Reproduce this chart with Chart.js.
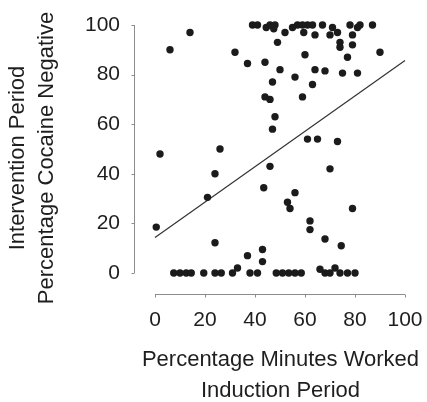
<!DOCTYPE html>
<html lang="en">
<head>
<meta charset="UTF-8">
<title>Minutes Worked vs Cocaine Negative</title>
<script src="https://cdn.jsdelivr.net/npm/chart.js"></script>
<style>
  html, body { margin: 0; padding: 0; background: #fff; }
  #wrap { width: 427px; height: 402px; }
</style>
</head>
<body>
<div id="wrap"><canvas id="scatter" width="427" height="402"></canvas></div>
<script>
// Induction period % minutes worked (x) vs intervention period % cocaine negative (y)
const minutesWorked = [
  6, 14, 32, 37, 44,
  39, 41, 44.5, 46, 48, 47.5, 49,
  52, 55, 57, 59, 59.5, 61, 63, 64, 67,
  60, 70, 71, 73, 74, 74,
  77, 78, 79, 79, 81, 82, 87, 90,
  50, 47, 44, 46, 64, 68, 75, 81, 56, 63, 59,
  48, 47, 61, 65, 73, 2, 26, 24, 46, 70,
  21, 43.5, 56, 53, 54, 79, 0.5, 62, 62, 68, 74.5, 24, 43, 37, 43,
  7.5, 10, 12.5, 14.5, 19.5, 24, 26.5, 31, 33, 38, 41,
  48.5, 51, 53.5, 56, 58.5, 66, 68, 70, 72, 74, 77, 80
];
const cocaineNegative = [
  90, 97, 89, 84.5, 85,
  100, 100, 99, 100, 100, 98.5, 93,
  97, 99, 100, 100, 97, 100, 100, 96, 100,
  88, 96, 99, 97, 93, 91,
  87, 100, 96, 92, 99, 100, 100, 89,
  82, 77, 71, 70, 82, 81.5, 80.6, 80.6, 79, 76, 71,
  63, 58, 54, 54, 53, 48, 50, 40, 43, 42,
  30.5, 34.4, 32.4, 28.5, 26, 26, 18.5, 21, 17.5, 13.7, 11, 12.2, 9.5, 7, 4.6,
  0, 0, 0, 0, 0, 0, 0, 0, 2, 0, 0,
  0, 0, 0, 0, 0, 1.5, 0, 0, 2, 0, 0, 0
];
// regression line end points
const fitX = [0, 100];
const fitY = [14.3, 85.7];
const tickValues = [0, 20, 40, 60, 80, 100];
const xTitle = ['Percentage Minutes Worked', 'Induction Period'];
const yTitle = ['Intervention Period', 'Percentage Cocaine Negative'];

const points = minutesWorked.map((x, i) => ({ x: x, y: cocaineNegative[i] }));
const fitLine = fitX.map((x, i) => ({ x: x, y: fitY[i] }));

const FONT = '"Liberation Sans", Arial, sans-serif';
const AXIS_GRAY = '#8c8c8c';
const TEXT = '#1e1e1e';

// both axes are detached from the plot and only span 0..100, so draw them here
const detachedAxes = {
  id: 'detachedAxes',
  afterDraw(chart) {
    const { x, y } = chart.scales;
    const ctx = chart.ctx;
    const first = tickValues[0], last = tickValues[tickValues.length - 1];
    const ax = chart.chartArea.left + 0.5;   // y axis line
    const ay = chart.chartArea.bottom + 0.5; // x axis line
    ctx.save();
    ctx.strokeStyle = AXIS_GRAY;
    ctx.lineWidth = 1;
    ctx.beginPath();
    ctx.moveTo(ax, y.getPixelForValue(first));
    ctx.lineTo(ax, y.getPixelForValue(last));
    ctx.moveTo(x.getPixelForValue(first), ay);
    ctx.lineTo(x.getPixelForValue(last), ay);
    tickValues.forEach(v => {
      const py = Math.round(y.getPixelForValue(v)) + 0.5;
      ctx.moveTo(ax, py);
      ctx.lineTo(ax - 3, py);
      const px = Math.round(x.getPixelForValue(v)) + 0.5;
      ctx.moveTo(px, ay);
      ctx.lineTo(px, ay + 3);
    });
    ctx.stroke();

    // y title, two rotated lines centred a bit below the middle of the plot
    ctx.fillStyle = TEXT;
    ctx.font = '22px ' + FONT;
    ctx.textAlign = 'center';
    ctx.textBaseline = 'middle';
    ctx.translate(18, 158);
    ctx.rotate(-Math.PI / 2);
    ctx.fillText(yTitle[0], 0, 0);
    ctx.fillText(yTitle[1], 0, 29);
    ctx.restore();
  }
};

new Chart(document.getElementById('scatter'), {
  type: 'scatter',
  data: {
    datasets: [
      {
        data: points,
        pointRadius: 3.7,
        pointBackgroundColor: '#1b1b1b',
        pointBorderWidth: 0,
        clip: false,
        order: 1
      },
      {
        type: 'line',
        data: fitLine,
        borderColor: '#333',
        borderWidth: 1.2,
        pointRadius: 0,
        fill: false,
        order: 2
      }
    ]
  },
  options: {
    responsive: false,
    animation: false,
    layout: { padding: 0, autoPadding: false },
    plugins: { legend: { display: false }, tooltip: { enabled: false } },
    scales: {
      x: {
        type: 'linear',
        min: -8.4,
        max: 108.8,
        afterBuildTicks: s => { s.ticks = tickValues.map(v => ({ value: v })); },
        afterFit: s => { s.height = 108; s.paddingLeft = 0; s.paddingRight = 0; },
        grid: { display: false, drawTicks: false },
        border: { display: false },
        ticks: { padding: 14, color: TEXT, font: { family: FONT, size: 21 } },
        title: {
          display: true,
          text: xTitle,
          color: TEXT,
          font: { family: FONT, size: 22, lineHeight: 1.4 },
          padding: { top: 0, bottom: -4 }
        }
      },
      y: {
        type: 'linear',
        min: -8.47,
        max: 110.08,
        afterBuildTicks: s => { s.ticks = tickValues.map(v => ({ value: v })); },
        afterFit: s => { s.width = 134; s.paddingTop = 0; s.paddingBottom = 0; },
        grid: { display: false, drawTicks: false },
        border: { display: false },
        ticks: { padding: 14, color: TEXT, font: { family: FONT, size: 21 } },
        title: { display: false }
      }
    }
  },
  plugins: [detachedAxes]
});
</script>
</body>
</html>
